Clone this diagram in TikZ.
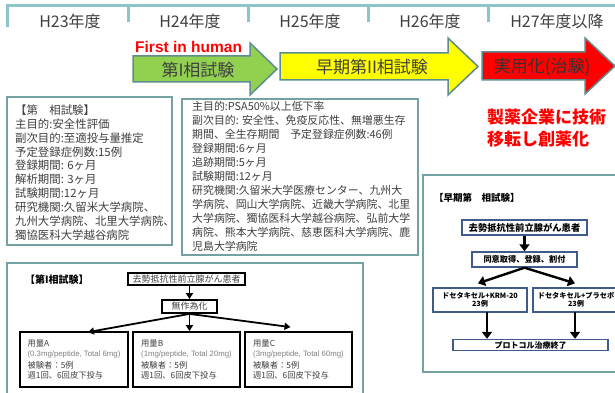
\documentclass[tikz,border=0pt]{standalone}
\usepackage{fontspec}
\setmainfont{Noto Sans CJK JP}
\newfontfamily\lat{Liberation Sans}
\usetikzlibrary{arrows.meta,calc}
\definecolor{barc}{HTML}{8CC6C9}
\definecolor{boxc}{HTML}{76A1A3}
\definecolor{arrc}{HTML}{5F8C8E}
\definecolor{grn}{HTML}{92D050}
\definecolor{yel}{HTML}{FFFF00}
\definecolor{rd}{HTML}{FF0000}
\definecolor{txt}{HTML}{404040}
\definecolor{gtx}{HTML}{808080}
\definecolor{navy}{HTML}{3F5A8C}
\tikzset{
  bar/.style={draw=barc, line width=3pt},
  frame/.style={draw=boxc, line width=1.8pt, inner sep=0pt, rectangle},
  yr/.style={font=\fontsize{16}{16}\selectfont, text=txt, inner sep=0pt},
  tarrow/.style={draw=arrc, line width=1.5pt, line join=miter},
  atext/.style={font=\fontsize{17}{17}\selectfont, text=txt, inner sep=0pt},
  info/.style={font=\fontsize{11.4}{13.9}\selectfont, text=txt, align=left, inner sep=0pt, anchor=north west},
  kbox/.style={draw=black, line width=1.8pt, inner sep=0pt, rectangle, font=\fontsize{9}{9}\selectfont, text=txt},
  dbox/.style={draw=black, line width=1.8pt, inner xsep=5pt, inner ysep=0pt, rectangle, align=left,
     font=\fontsize{8.3}{10}\selectfont, text=txt, minimum height=55pt},
  nbox/.style={draw=navy, line width=1.4pt, inner sep=0pt, rectangle, align=center,
     font=\bfseries\fontsize{7.2}{8.2}\selectfont, text=black},
  ntext/.style={inner sep=0pt, align=center, font=\bfseries\fontsize{7.2}{8.2}\selectfont, text=black},
  karr/.style={line width=1.8pt, -{Triangle[length=6pt,width=7pt]}},
  narr/.style={line width=2.4pt, -{Triangle[length=7pt,width=10pt]}},
}
\newcommand{\dosel}[1]{{\lat\color{gtx}\fontsize{7.8}{10}\selectfont #1}}
\begin{document}
\begin{tikzpicture}[x=1pt,y=-1pt]
\clip (0,0) rectangle (615,393);
\fill[white] (0,0) rectangle (615,393);

% timeline bar
\draw[bar] (7,27) -- (7,5.5) -- (615,5.5);
\foreach \xx in {128,248,368,488} \draw[bar] (\xx,5.5) -- (\xx,22);
\node[yr] (y23) at (70,21.5) {H23年度};
\node[yr] (y24) at (190,21.5) {H24年度};
\node[yr] (y25) at (310,21.5) {H25年度};
\node[yr] (y26) at (430,21.5) {H26年度};
\node[yr] (y27) at (557,21.5) {H27年度以降};

% phase arrows
\node[anchor=west, font=\lat\bfseries\fontsize{15.5}{16}\selectfont, text=rd, inner sep=0pt] (fih) at (135,47) {First in human};
\draw[tarrow, fill=grn] (133,56) -- (250,56) -- (250,43) -- (277,69) -- (250,95) -- (250,82) -- (133,82) -- cycle;
\node[atext] (ph1) at (198,70) {第I相試験};
\draw[tarrow, fill=yel] (280,53) -- (448,53) -- (448,38) -- (478,66.5) -- (448,95) -- (448,80) -- (280,80) -- cycle;
\node[atext] (ph2) at (372,67) {早期第II相試験};
\draw[tarrow, fill=rd] (482,52) -- (585,52) -- (585,38) -- (615,66) -- (585,94) -- (585,80) -- (482,80) -- cycle;
\node[atext, text=black!80] (ph3) at (542,67) {実用化(治験)};

% info boxes
\node[frame, minimum width=165pt, minimum height=148pt] (b1) at (89.5,171) {};
\node[info] (t1) at (15,104.5) {【第　相試験】\\主目的:安全性評価\\副次目的:至適投与量推定\\予定登録症例数:15例\\登録期間: 6ヶ月\\解析期間: 3ヶ月\\試験期間:12ヶ月\\研究機関:久留米大学病院、\\九州大学病院、北里大学病院、\\獨協医科大学越谷病院};

\node[frame, minimum width=236pt, minimum height=156pt] (b2) at (300,177) {};
\node[info, font=\fontsize{10.9}{14}\selectfont] (t2) at (192,101.5) {主目的:PSA50\%以上低下率\\副次目的: 安全性、免疫反応性、無増悪生存\\期間、全生存期間　予定登録症例数:46例\\登録期間:6ヶ月\\追跡期間:5ヶ月\\試験期間:12ヶ月\\研究機関:久留米大学医療センター、九州大\\学病院、岡山大学病院、近畿大学病院、北里\\大学病院、獨協医科大学越谷病院、弘前大学\\病院、熊本大学病院、慈恵医科大学病院、鹿\\児島大学病院};

\node[anchor=north west, align=left, inner sep=0pt, text=rd, font=\bfseries\fontsize{17}{22}\selectfont] (red) at (487,108.5) {製薬企業に技術\\移転し創薬化};

% phase I flow
\node[frame, minimum width=356pt, minimum height=160pt] (b3) at (185,343) {};
\node[anchor=west, inner sep=0pt, font=\bfseries\fontsize{10}{10}\selectfont] (h3) at (25,280) {【第I相試験】};
\node[kbox, minimum width=117pt, minimum height=12pt] (p1) at (186.5,279) {去勢抵抗性前立腺がん患者};
\node[kbox, minimum width=55pt, minimum height=13pt] (p2) at (189.5,306.5) {無作為化};
\node[dbox, minimum width=108pt] (bA) at (74,359.5) {用量A\\\dosel{(0.3mg/peptide, Total 6mg)}\\[2pt]被験者：5例\\週1回、6回皮下投与};
\node[dbox, minimum width=107pt] (bB) at (186.5,359.5) {用量B\\\dosel{(1mg/peptide, Total 20mg)}\\[2pt]被験者：5例\\週1回、6回皮下投与};
\node[dbox, minimum width=107pt] (bC) at (298.5,359.5) {用量C\\\dosel{(3mg/peptide, Total 60mg)}\\[2pt]被験者：5例\\週1回、6回皮下投与};
\coordinate (ta) at ($(bA.north)+(14,1)$);
\coordinate (tc) at ($(bC.north)+(-8,-4)$);
\coordinate (pm) at (p2.north |- p1.south);
\coordinate (tb) at (p2.south |- bB.north);
\draw[karr] (pm) -- (p2.north);
\draw[karr] (p2.south) -- (ta);
\draw[karr] (p2.south) -- (tb);
\draw[karr] (p2.south) -- (tc);

% early phase II flow
\node[frame, minimum width=207pt, minimum height=197pt] (b4) at (526.5,273.5) {};
\node[anchor=west, inner sep=0pt, font=\bfseries\fontsize{9.5}{9.5}\selectfont] (h4) at (434,198) {【早期第　相試験】};
\node[nbox, minimum width=125pt, minimum height=15pt, font=\bfseries\fontsize{9.3}{9.5}\selectfont] (q1) at (524.5,227.5) {去勢抵抗性前立腺がん患者};
\node[nbox, minimum width=105pt, minimum height=15pt, font=\bfseries\fontsize{8.2}{8.6}\selectfont] (q2) at (524.5,259.5) {同意取得、登録、割付};
\node[nbox, minimum width=94pt, minimum height=24pt] (q3) at (480,300) {ドセタキセル+KRM-20\\23例};
\node[nbox, minimum width=94pt, minimum height=24pt] (q4) at (580,300) {};
\node[ntext] (q4t) at (576,300) {ドセタキセル+プラセボ\\23例};
\node[nbox, minimum width=155pt, minimum height=11pt, font=\bfseries\fontsize{8}{8.6}\selectfont] (q5) at (530.5,345) {プロトコル治療終了};
\coordinate (t3) at ($(q3.north)+(-2,-4)$);
\coordinate (t4) at ($(q4.north)+(-5,-4)$);
\coordinate (s3) at (487,312);
\coordinate (s4) at (575,312);
\coordinate (e3) at (s3 |- q5.north);
\coordinate (e4) at (s4 |- q5.north);
\draw[narr] (q1) -- (q2);
\draw[narr] (q2.south) -- (t3);
\draw[narr] (q2.south) -- (t4);
\draw[narr] (s3) -- (e3);
\draw[narr] (s4) -- (e4);
\end{tikzpicture}
\end{document}
